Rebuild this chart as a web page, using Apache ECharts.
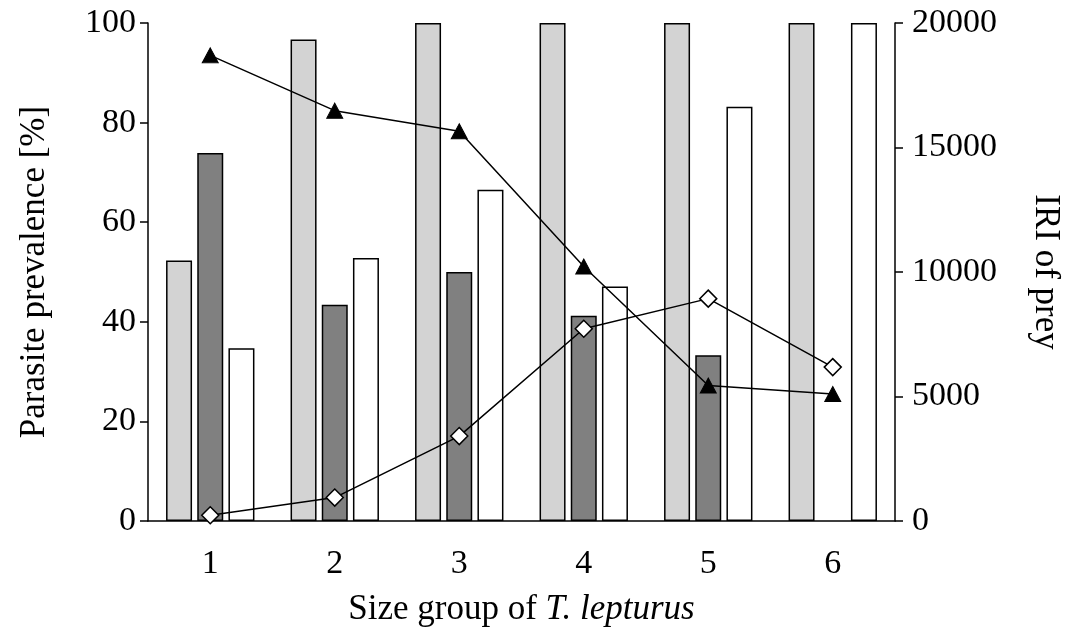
<!DOCTYPE html>
<html><head><meta charset="utf-8">
<script src="https://cdn.jsdelivr.net/npm/echarts@6/dist/echarts.min.js"></script>
<style>html,body{margin:0;padding:0;background:#fff}#c{width:1079px;height:632px}</style>
</head><body><div id="c"></div>
<script>
const categories = ['1','2','3','4','5','6'];
const prevalenceLight = [52.3, 96.7, 100, 100, 100, 100];
const prevalenceDark = [73.9, 43.4, 50.0, 41.2, 33.3, null];
const prevalenceWhite = [34.7, 52.8, 66.5, 47.1, 83.2, 100];
const iriTriangle = [18700, 16480, 15650, 10220, 5440, 5100];
const iriDiamond = [230, 940, 3410, 7720, 8930, 6180];
const leftTicks = [0, 20, 40, 60, 80, 100];
const rightTicks = [0, 5000, 10000, 15000, 20000];

const font = 'Liberation Serif';
const tickSize = 34, titleSize = 35;
const barBase = {type:'bar', yAxisIndex:0, barGap:'20%', barCategoryGap:'29%'};
const chart = echarts.init(document.getElementById('c'));
chart.setOption({
  animation:false,
  textStyle:{fontFamily:font},
  grid:{left:148, right:184, top:23, bottom:111, containLabel:false},
  xAxis:{type:'category', data:categories,
    axisLine:{lineStyle:{color:'#000', width:1.5}},
    axisTick:{alignWithLabel:true, length:8, lineStyle:{color:'#000', width:1.5}},
    axisLabel:{color:'#000', fontSize:tickSize, fontFamily:font, margin:26},
    name:'{a|Size group of }{b|T. lepturus}', nameLocation:'middle', nameGap:71,
    nameTextStyle:{rich:{a:{fontSize:titleSize, fontFamily:font, color:'#000'}, b:{fontSize:titleSize, fontFamily:font, fontStyle:'italic', color:'#000'}}}
  },
  yAxis:[
    {type:'value', min:leftTicks[0], max:leftTicks[leftTicks.length-1], interval:20, position:'left',
     splitLine:{show:false},
     axisLine:{show:true, lineStyle:{color:'#000', width:1.5}},
     axisTick:{show:true, length:8, lineStyle:{color:'#000', width:1.5}},
     axisLabel:{color:'#000', fontSize:tickSize, fontFamily:font, margin:12},
     name:'Parasite prevalence [%]', nameLocation:'middle', nameGap:96, nameRotate:90,
     nameTextStyle:{color:'#000', fontSize:titleSize, fontFamily:font}
    },
    {type:'value', min:rightTicks[0], max:rightTicks[rightTicks.length-1], interval:5000, position:'right',
     splitLine:{show:false},
     axisLine:{show:true, lineStyle:{color:'#000', width:1.5}},
     axisTick:{show:true, length:8, lineStyle:{color:'#000', width:1.5}},
     axisLabel:{color:'#000', fontSize:tickSize, fontFamily:font, margin:17, formatter:(v)=>String(v)},
     name:'IRI of prey', nameLocation:'middle', nameGap:133, nameRotate:-90,
     nameTextStyle:{color:'#000', fontSize:titleSize, fontFamily:font}
    }
  ],
  series:[
    Object.assign({}, barBase, {name:'light', data:prevalenceLight, itemStyle:{color:'#d3d3d3', borderColor:'#000', borderWidth:1.5}}),
    Object.assign({}, barBase, {name:'dark', data:prevalenceDark, itemStyle:{color:'#808080', borderColor:'#000', borderWidth:1.5}}),
    Object.assign({}, barBase, {name:'white', data:prevalenceWhite, itemStyle:{color:'#ffffff', borderColor:'#000', borderWidth:1.5}}),
    {type:'line', yAxisIndex:1, data:iriTriangle, symbol:'triangle', symbolSize:[16,15],
     lineStyle:{color:'#000', width:1.5}, itemStyle:{color:'#000', borderColor:'#000', borderWidth:1}, z:5},
    {type:'line', yAxisIndex:1, data:iriDiamond, symbol:'diamond', symbolSize:[17,17],
     lineStyle:{color:'#000', width:1.5}, itemStyle:{color:'#fff', borderColor:'#000', borderWidth:1.5}, z:5}
  ]
});
</script></body></html>
